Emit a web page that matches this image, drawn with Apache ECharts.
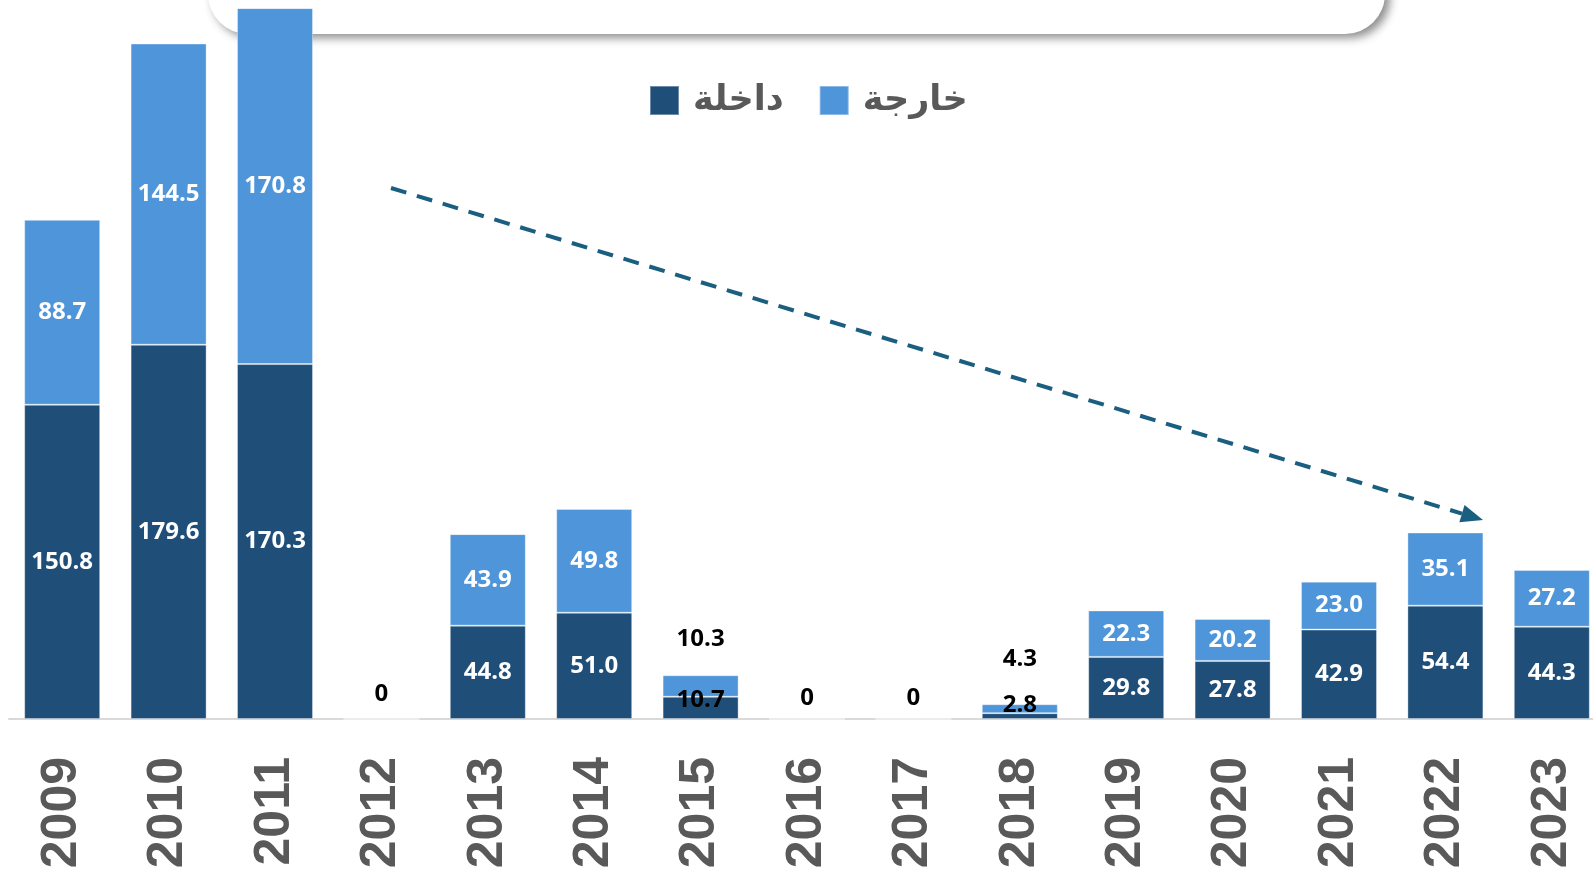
<!DOCTYPE html>
<html>
<head>
<meta charset="utf-8">
<script src="https://cdn.jsdelivr.net/npm/echarts@6/dist/echarts.min.js"></script>
<style>
  html, body { margin: 0; padding: 0; background: #fff; }
  #chart { width: 1593px; height: 871px; }
</style>
</head>
<body>
<div id="chart"></div>
<script>
// السنوات والقيم
const years = ['2009', '2010', '2011', '2012', '2013', '2014', '2015', '2016', '2017', '2018', '2019', '2020', '2021', '2022', '2023']
const inbound = [150.8, 179.6, 170.3, 0, 44.8, 51.0, 10.7, 0, 0, 2.8, 29.8, 27.8, 42.9, 54.4, 44.3]
const outbound = [88.7, 144.5, 170.8, 0, 43.9, 49.8, 10.3, 0, 0, 4.3, 22.3, 20.2, 23.0, 35.1, 27.2]

const darkBlue = '#1F4E79'
const lightBlue = '#4F95DA'
const numFont = { fontFamily: 'Open Sans', fontWeight: 'bold', fontSize: 24 }
const fmt = (p) => (p.value === 0 ? '0' : p.value.toFixed(1))

const chart = echarts.init(document.getElementById('chart'))

// تخصيص التسميات الصغيرة
function inboundItem(v, i) {
  const item = { value: v }
  if (v === 0) {
    item.label = { position: 'top', distance: years[i] === '2012' ? 12 : 8, color: '#000' }
  } else if (years[i] === '2015') {
    item.label = { color: '#000', offset: [0, -8] }
  } else if (years[i] === '2018') {
    item.label = { color: '#000', offset: [0, -11] }
  }
  return item
}
function outboundItem(v, i) {
  const item = { value: v }
  if (v === 0) {
    item.label = { show: false }
  } else if (years[i] === '2015') {
    item.label = { position: 'top', distance: 24, color: '#000' }
  } else if (years[i] === '2018') {
    item.label = { position: 'top', distance: 33, color: '#000' }
  }
  return item
}

// السهم المتقطع
const p0 = [391, 188]
const p1 = [1483, 520]
const ang = Math.atan2(p1[1] - p0[1], p1[0] - p0[0])
const headLen = 22
const headW = 9
const base = [p1[0] - headLen * Math.cos(ang), p1[1] - headLen * Math.sin(ang)]
const head = [
  p1,
  [base[0] + headW * Math.sin(ang), base[1] - headW * Math.cos(ang)],
  [base[0] - headW * Math.sin(ang), base[1] + headW * Math.cos(ang)]
]

const option = {
  animation: false,
  grid: { left: 9, width: 1596, top: 0, bottom: 152, containLabel: false, outerBoundsMode: 'none' },
  legend: {
    data: ['داخلة', 'خارجة'],
    left: 644,
    top: 78,
    itemWidth: 29,
    itemHeight: 29,
    itemGap: 35,
    icon: 'rect',
    textStyle: {
      fontFamily: 'DejaVu Sans',
      fontWeight: 'bold',
      fontSize: 35,
      color: '#595959',
      padding: [0, 0, 0, 9]
    }
  },
  xAxis: {
    type: 'category',
    data: years,
    axisTick: { show: false },
    axisLine: { lineStyle: { color: '#D9D9D9', width: 2 } },
    axisLabel: {
      rotate: 90,
      margin: 38,
      fontFamily: 'Liberation Sans',
      fontWeight: 'bold',
      fontSize: 50,
      color: '#595959'
    }
  },
  yAxis: {
    type: 'value',
    min: 0,
    max: 345,
    show: false,
    splitLine: { show: false }
  },
  graphic: [
    {
      type: 'rect',
      z: -10,
      shape: { x: 208, y: -80, width: 1177, height: 114, r: 40 },
      style: {
        fill: '#fff',
        shadowBlur: 10,
        shadowOffsetX: 5,
        shadowOffsetY: 4,
        shadowColor: 'rgba(0,0,0,0.45)'
      }
    },
    {
      type: 'line',
      z: 50,
      shape: { x1: p0[0], y1: p0[1], x2: base[0], y2: base[1] },
      style: { stroke: '#1A5E80', lineWidth: 4, lineDash: [16, 11] }
    },
    {
      type: 'polygon',
      z: 50,
      shape: { points: head },
      style: { fill: '#1A5E80' }
    }
  ],
  series: [
    {
      name: 'داخلة',
      type: 'bar',
      stack: 'total',
      barWidth: 76,
      itemStyle: { color: darkBlue, borderColor: 'rgba(255,255,255,0.35)', borderWidth: 1 },
      label: Object.assign({ show: true, position: 'inside', color: '#fff', formatter: fmt }, numFont),
      data: inbound.map(inboundItem)
    },
    {
      name: 'خارجة',
      type: 'bar',
      stack: 'total',
      barWidth: 76,
      itemStyle: { color: lightBlue, borderColor: 'rgba(255,255,255,0.35)', borderWidth: 1 },
      label: Object.assign({ show: true, position: 'inside', color: '#fff', formatter: fmt }, numFont),
      data: outbound.map(outboundItem)
    }
  ]
}

chart.setOption(option)
</script>
</body>
</html>
